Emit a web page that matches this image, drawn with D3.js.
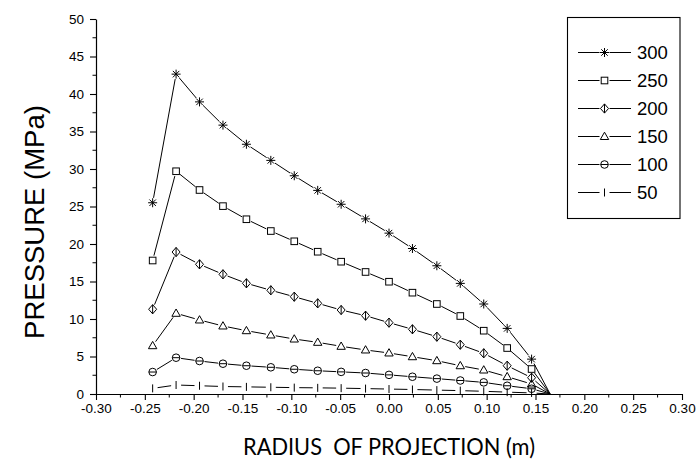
<!DOCTYPE html>
<html>
<head>
<meta charset="utf-8">
<script src="https://cdn.jsdelivr.net/npm/d3@7"></script>
<style>
  html, body { margin: 0; padding: 0; background: #fff; }
  svg { display: block; }
  text { font-family: "Liberation Sans", Arial, sans-serif; fill: #000; }
</style>
</head>
<body>
<svg id="chart" width="699" height="461"></svg>
<script>
// Radial position (m) of each computed point; the last one is where pressure vanishes
const radius = [-0.242, -0.218, -0.194, -0.170, -0.146, -0.121, -0.097, -0.073, -0.049,
                -0.024, 0.000, 0.024, 0.049, 0.073, 0.097, 0.121, 0.146, 0.165];

// Pressure (MPa) for each load case
const p300 = [25.5, 42.65, 38.95, 35.85, 33.3, 31.15, 29.1, 27.15, 25.3, 23.35, 21.45, 19.4, 17.1, 14.75, 12.0, 8.75, 4.65, 0];
const p250 = [17.8, 29.7, 27.2, 25.05, 23.3, 21.73, 20.36, 18.97, 17.64, 16.27, 14.97, 13.51, 12.0, 10.4, 8.44, 6.13, 3.33, 0];
const p200 = [11.3, 18.93, 17.29, 15.96, 14.76, 13.83, 12.97, 12.09, 11.2, 10.44, 9.51, 8.63, 7.64, 6.57, 5.43, 3.77, 2.17, 0];
const p150 = [6.44, 10.76, 9.87, 9.07, 8.44, 7.87, 7.33, 6.89, 6.36, 5.87, 5.47, 4.97, 4.44, 3.77, 3.2, 2.31, 1.33, 0];
const p100 = [2.93, 4.84, 4.4, 4.04, 3.77, 3.56, 3.3, 3.1, 2.95, 2.8, 2.55, 2.3, 2.05, 1.8, 1.55, 1.1, 0.7, 0];
const p50  = [0.75, 1.2, 1.1, 1.0, 0.95, 0.9, 0.85, 0.82, 0.78, 0.72, 0.66, 0.6, 0.52, 0.45, 0.36, 0.25, 0.14, 0];

const seriesNames = ["300", "250", "200", "150", "100", "50"];
const seriesValues = [p300, p250, p200, p150, p100, p50];
const seriesSymbols = ["star", "square", "diamond", "triangle", "circle", "bar"];

const xTickValues = [-0.30, -0.25, -0.20, -0.15, -0.10, -0.05, 0.00, 0.05, 0.10, 0.15, 0.20, 0.25, 0.30];
const xTickLabels = ["-0.30", "-0.25", "-0.20", "-0.15", "-0.10", "-0.05", "0.00", "0.05", "0.10", "0.15", "0.20", "0.25", "0.30"];
const yTickValues = [0, 5, 10, 15, 20, 25, 30, 35, 40, 45, 50];
const yTickLabels = ["0", "5", "10", "15", "20", "25", "30", "35", "40", "45", "50"];

const svg = d3.select("#chart");
const plot = { left: 96, right: 682, top: 19, bottom: 394 };

const x = d3.scaleLinear().domain([-0.30, 0.30]).range([plot.left, plot.right]);
const y = d3.scaleLinear().domain([0, 50]).range([plot.bottom, plot.top]);

// ---- axes ----
const xMinor = d3.range(-0.30, 0.3001, 0.025).filter(v => Math.abs(Math.round(v / 0.05) * 0.05 - v) > 1e-6);
const yMinor = d3.range(2.5, 50, 5);

const xAxis = svg.append("g").attr("transform", `translate(0,${plot.bottom})`)
  .call(d3.axisBottom(x).tickValues(xTickValues)
        .tickFormat((d, i) => xTickLabels[i]).tickSize(6).tickSizeOuter(0).tickPadding(3));
xAxis.append("g").selectAll("line").data(xMinor).join("line")
  .attr("x1", d => x(d)).attr("x2", d => x(d)).attr("y1", 0).attr("y2", 3.5)
  .attr("stroke", "#000");

const yAxis = svg.append("g").attr("transform", `translate(${plot.left},0)`)
  .call(d3.axisLeft(y).tickValues(yTickValues)
        .tickFormat((d, i) => yTickLabels[i]).tickSize(6).tickSizeOuter(0).tickPadding(6));
yAxis.append("g").selectAll("line").data(yMinor).join("line")
  .attr("y1", d => y(d)).attr("y2", d => y(d)).attr("x1", 0).attr("x2", -3.5)
  .attr("stroke", "#000");

[xAxis, yAxis].forEach(g => {
  g.select(".domain").attr("stroke", "#000").attr("stroke-width", 1.2);
  g.selectAll(".tick line").attr("stroke", "#000").attr("stroke-width", 1.1);
  g.selectAll(".tick text").attr("font-family", "Liberation Sans, Arial, sans-serif")
    .attr("font-size", 13.5).attr("fill", "#000");
});

// ---- axis titles ----
const xTitle = svg.append("text")
  .attr("x", (plot.left + plot.right) / 2).attr("y", 455)
  .attr("text-anchor", "middle")
  .style("font-family", "Lato, 'Open Sans', sans-serif")
  .attr("font-size", 23)
  .text("RADIUS\u00a0\u00a0OF PROJECTION (m)");
// fit the title to its measured span
const xTitleLen = xTitle.node().getComputedTextLength();
xTitle.attr("textLength", 292).attr("lengthAdjust", "spacingAndGlyphs");

svg.append("text")
  .attr("transform", "translate(44,222) rotate(-90)")
  .attr("text-anchor", "middle")
  .attr("font-size", 27.5)
  .text("PRESSURE (MPa)");

// ---- symbols ----
function drawSymbol(g, type, cx, cy) {
  const s = g.append("g").attr("transform", `translate(${cx},${cy})`)
    .attr("fill", "none").attr("stroke", "#000").attr("stroke-width", 1);
  if (type === "star") {
    const r = 4.5, d = r * 0.72;
    s.append("path").attr("d",
      `M0,${-r}V${r}M${-r},0H${r}M${-d},${-d}L${d},${d}M${-d},${d}L${d},${-d}`);
  } else if (type === "square") {
    s.append("rect").attr("x", -3.3).attr("y", -3.3).attr("width", 6.6).attr("height", 6.6);
  } else if (type === "diamond") {
    s.append("path").attr("d", "M0,-4.6L4,0L0,4.6L-4,0Z");
    s.append("path").attr("d", "M0,-4.6V4.6");
  } else if (type === "triangle") {
    s.append("path").attr("d", "M0,-4.3L4.2,3L-4.2,3Z");
  } else if (type === "circle") {
    s.append("circle").attr("r", 3.8);
    s.append("path").attr("d", "M-3.8,0H3.8");
  } else if (type === "bar") {
    s.append("path").attr("d", "M0,-4V4");
  }
}

// draw a polyline whose segments stop short of the symbols
function brokenLine(g, pts, gap, symbolAt) {
  for (let i = 0; i < pts.length - 1; i++) {
    const [x0, y0] = pts[i], [x1, y1] = pts[i + 1];
    const len = Math.hypot(x1 - x0, y1 - y0);
    if (len < 1e-6) continue;
    const ux = (x1 - x0) / len, uy = (y1 - y0) / len;
    const g0 = symbolAt(i) ? gap : 0, g1 = symbolAt(i + 1) ? gap : 0;
    if (len <= g0 + g1) continue;
    g.append("line")
      .attr("x1", x0 + ux * g0).attr("y1", y0 + uy * g0)
      .attr("x2", x1 - ux * g1).attr("y2", y1 - uy * g1)
      .attr("stroke", "#000").attr("stroke-width", 1);
  }
}

// ---- series ----
const seriesG = svg.append("g");
seriesValues.forEach((vals, si) => {
  const pts = vals.map((v, i) => [x(radius[i]), y(v)]);
  const last = pts.length - 1;
  const g = seriesG.append("g");
  brokenLine(g, pts, 5, i => i !== last);
  pts.forEach((p, i) => { if (i !== last) drawSymbol(g, seriesSymbols[si], p[0], p[1]); });
});

// ---- legend ----
const legend = svg.append("g");
legend.append("rect").attr("x", 567.5).attr("y", 17.5).attr("width", 112.5).attr("height", 201)
  .attr("fill", "#fff").attr("stroke", "#000").attr("stroke-width", 1.1);
seriesNames.forEach((name, i) => {
  const cy = 52.5 + i * 28;
  const row = legend.append("g");
  brokenLine(row, [[578, cy], [604.5, cy], [631, cy]], 5, j => j === 1);
  drawSymbol(row, seriesSymbols[i], 604.5, cy);
  row.append("text").attr("x", 637).attr("y", cy).attr("dy", "0.35em")
    .attr("font-size", 18.5).text(name);
});
</script>
</body>
</html>
